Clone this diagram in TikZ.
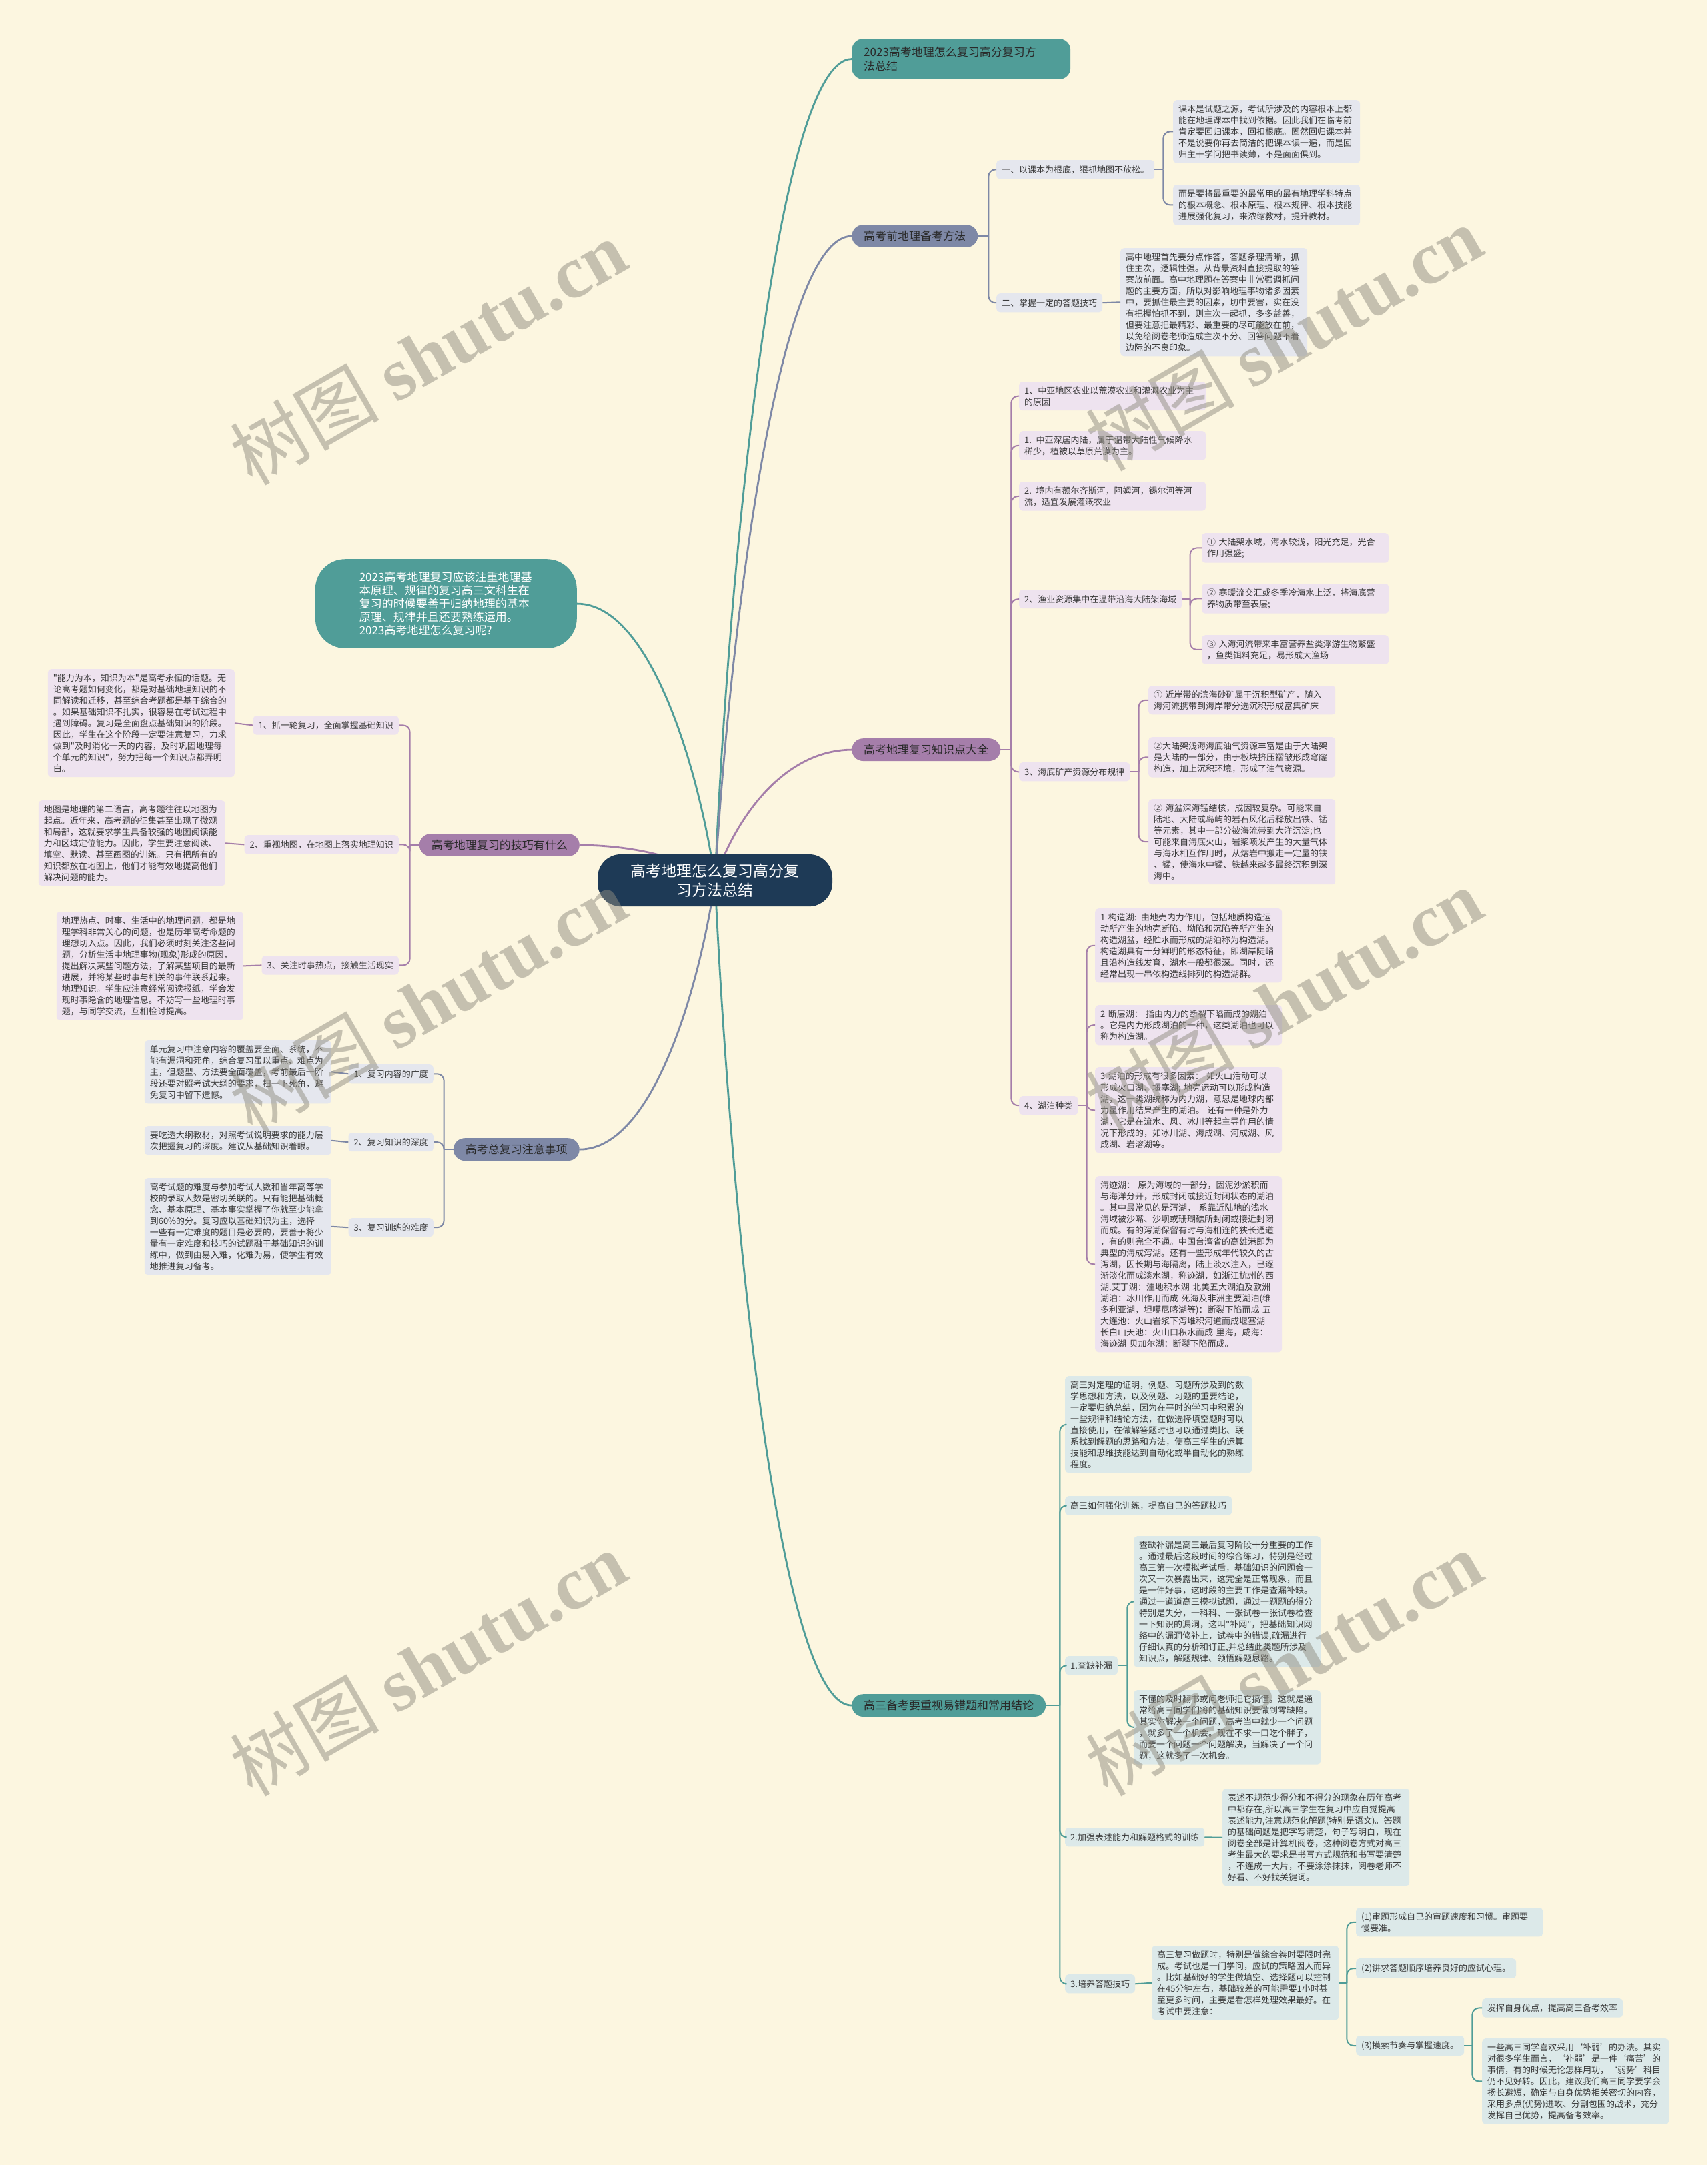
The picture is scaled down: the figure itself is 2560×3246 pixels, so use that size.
\documentclass[tikz,border=0pt]{standalone}
\usepackage{fontspec}
\setmainfont{Noto Sans CJK SC}
\newfontfamily\cjk{Noto Sans CJK SC}
\newfontfamily\wmlatin{Liberation Serif}
\usetikzlibrary{backgrounds}

\definecolor{bgcream}{HTML}{FCF6E0}
\definecolor{navy}{HTML}{1E3A56}
\definecolor{tealM}{HTML}{509D98}
\definecolor{tealL}{HTML}{DCE9E9}
\definecolor{purpM}{HTML}{A57EAA}
\definecolor{purpL}{HTML}{EEE3EF}
\definecolor{blueM}{HTML}{7E88A6}
\definecolor{blueL}{HTML}{E5E7EE}
\definecolor{txtgray}{HTML}{3A3A3A}
\definecolor{txtdark}{HTML}{2A2A2A}
\definecolor{wmgray}{HTML}{8F8C80}

\newcommand{\leaffont}{\cjk\fontsize{13}{17}\selectfont}
\newcommand{\branchfont}{\cjk\fontsize{17}{21}\selectfont}

\tikzset{
  leafbox/.style={fill=#1, rounded corners=5pt, inner xsep=8pt, inner ysep=7pt,
    text width=264pt, align=left, font=\leaffont, text=txtgray},
  tagbox/.style={fill=#1, rounded corners=5pt, inner xsep=8pt, inner ysep=8pt,
    font=\leaffont, text=txtgray},
  branchbox/.style={fill=#1, rounded corners=17pt, inner xsep=18pt, inner ysep=9pt,
    font=\branchfont, text=txtdark},
  linkline/.style={draw=#1, line width=2pt},
  trunkline/.style={draw=#1, line width=2.8pt},
  elbow/.style={rounded corners=10pt},
  wmark/.style={rotate=30, font=\fontsize{112}{112}\selectfont, text=wmgray, text opacity=0.5}
}

\begin{document}
\begin{tikzpicture}[x=1pt, y=-1pt]
\useasboundingbox (0,0) rectangle (2560,3246);
\begin{scope}[on background layer]
\fill[bgcream] (0,0) rectangle (2560,3246);
\end{scope}

% centre
\node[fill=navy, text=white, rounded corners=35pt, inner xsep=48pt, inner ysep=14pt,
  text width=256pt, align=center, font=\cjk\fontsize{23}{29}\selectfont] (ctr) at (1072,1320)
  {高考地理怎么复习高分复\\习方法总结};

% ---------- right: top ----------
\node[branchbox=tealM, anchor=north west, inner ysep=12pt, text width=292pt, align=left] (top) at (1277,58)
  {2023高考地理怎么复习高分复习方\\法总结};

% ---------- right: 高考前地理备考方法 ----------
\node[branchbox=blueM, anchor=north west] (prep) at (1277,337) {高考前地理备考方法};
\node[tagbox=blueL, anchor=north west] (prep1) at (1494,240) {一、以课本为根底，狠抓地图不放松。};
\node[leafbox=blueL, anchor=north west] (prep1a) at (1759,150)
  {课本是试题之源，考试所涉及的内容根本上都\\能在地理课本中找到依据。因此我们在临考前\\肯定要回归课本，回扣根底。固然回归课本并\\不是说要你再去简洁的把课本读一遍，而是回\\归主干学问把书读薄，不是面面俱到。};
\node[leafbox=blueL, anchor=north west] (prep1b) at (1759,277)
  {而是要将最重要的最常用的最有地理学科特点\\的根本概念、根本原理、根本规律、根本技能\\进展强化复习，来浓缩教材，提升教材。};
\node[tagbox=blueL, anchor=north west] (prep2) at (1494,440) {二、掌握一定的答题技巧};
\node[leafbox=blueL, anchor=north west] (prep2a) at (1680,372)
  {高中地理首先要分点作答，答题条理清晰，抓\\住主次，逻辑性强。从背景资料直接提取的答\\案放前面。高中地理题在答案中非常强调抓问\\题的主要方面，所以对影响地理事物诸多因素\\中，要抓住最主要的因素，切中要害，实在没\\有把握怕抓不到，则主次一起抓，多多益善，\\但要注意把最精彩、最重要的尽可能放在前，\\以免给阅卷老师造成主次不分、回答问题不着\\边际的不良印象。};

\draw[linkline=blueM] (prep.east) -- ++(16,0) coordinate (prepv);
\foreach \n in {prep1,prep2} \draw[linkline=blueM, elbow] (prepv) |- (\n.west);
\draw[linkline=blueM] (prep1.east) -- ++(13,0) coordinate (prep1v);
\foreach \n in {prep1a,prep1b} \draw[linkline=blueM, elbow] (prep1v) |- (\n.west);
\draw[linkline=blueM] (prep2.east) -- (prep2a.west);

% ---------- right: 高考地理复习知识点大全 ----------
\node[branchbox=purpM, anchor=north west] (know) at (1277,1107) {高考地理复习知识点大全};
\node[leafbox=purpL, anchor=north west] (c1) at (1528,572)
  {1、中亚地区农业以荒漠农业和灌溉农业为主\\的原因};
\node[leafbox=purpL, anchor=north west] (c2) at (1528,646)
  {1. 中亚深居内陆，属于温带大陆性气候降水\\稀少，植被以草原荒漠为主。};
\node[leafbox=purpL, anchor=north west] (c3) at (1528,722)
  {2. 境内有额尔齐斯河，阿姆河，锡尔河等河\\流，适宜发展灌溉农业};
\node[tagbox=purpL, anchor=north west] (c4) at (1528,884) {2、渔业资源集中在温带沿海大陆架海域};
\node[leafbox=purpL, anchor=north west] (s1) at (1802,799)
  {① 大陆架水域，海水较浅，阳光充足，光合\\作用强盛;};
\node[leafbox=purpL, anchor=north west] (s2) at (1802,875)
  {② 寒暖流交汇或冬季冷海水上泛，将海底营\\养物质带至表层;};
\node[leafbox=purpL, anchor=north west] (s3) at (1802,952)
  {③ 入海河流带来丰富营养盐类浮游生物繁盛\\，鱼类饵料充足，易形成大渔场};
\node[tagbox=purpL, anchor=north west] (c5) at (1528,1143) {3、海底矿产资源分布规律};
\node[leafbox=purpL, anchor=north west] (t1) at (1722,1028)
  {① 近岸带的滨海砂矿属于沉积型矿产，随入\\海河流携带到海岸带分选沉积形成富集矿床};
\node[leafbox=purpL, anchor=north west] (t2) at (1722,1105)
  {②大陆架浅海海底油气资源丰富是由于大陆架\\是大陆的一部分，由于板块挤压褶皱形成穹窿\\构造，加上沉积环境，形成了油气资源。};
\node[leafbox=purpL, anchor=north west] (t3) at (1722,1198)
  {② 海盆深海锰结核，成因较复杂。可能来自\\陆地、大陆或岛屿的岩石风化后释放出铁、锰\\等元素，其中一部分被海流带到大洋沉淀;也\\可能来自海底火山，岩浆喷发产生的大量气体\\与海水相互作用时，从熔岩中搬走一定量的铁\\、锰，使海水中锰、铁越来越多最终沉积到深\\海中。};
\node[tagbox=purpL, anchor=north west] (c6) at (1528,1643) {4、湖泊种类};
\node[leafbox=purpL, anchor=north west] (l1) at (1642,1362)
  {1 构造湖: 由地壳内力作用，包括地质构造运\\动所产生的地壳断陷、坳陷和沉陷等所产生的\\构造湖盆，经贮水而形成的湖泊称为构造湖。\\构造湖具有十分鲜明的形态特征，即湖岸陡峭\\且沿构造线发育，湖水一般都很深。同时，还\\经常出现一串依构造线排列的构造湖群。};
\node[leafbox=purpL, anchor=north west] (l2) at (1642,1507)
  {2 断层湖： 指由内力的断裂下陷而成的湖泊\\。它是内力形成湖泊的一种，这类湖泊也可以\\称为构造湖。};
\node[leafbox=purpL, anchor=north west] (l3) at (1642,1600)
  {3 湖泊的形成有很多因素： 如火山活动可以\\形成火口湖、堰塞湖; 地壳运动可以形成构造\\湖，这一类湖统称为内力湖，意思是地球内部\\力量作用结果产生的湖泊。 还有一种是外力\\湖，它是在流水、风、冰川等起主导作用的情\\况下形成的，如冰川湖、海成湖、河成湖、风\\成湖、岩溶湖等。};
\node[leafbox=purpL, anchor=north west] (l4) at (1642,1763)
  {海迹湖： 原为海域的一部分，因泥沙淤积而\\与海洋分开，形成封闭或接近封闭状态的湖泊\\。其中最常见的是泻湖， 系靠近陆地的浅水\\海域被沙嘴、沙坝或珊瑚礁所封闭或接近封闭\\而成。有的泻湖保留有时与海相连的狭长通道\\，有的则完全不通。中国台湾省的高雄港即为\\典型的海成泻湖。还有一些形成年代较久的古\\泻湖，因长期与海隔离，陆上淡水注入，已逐\\渐淡化而成淡水湖，称迹湖，如浙江杭州的西\\湖.艾丁湖：洼地积水湖 北美五大湖泊及欧洲\\湖泊：冰川作用而成 死海及非洲主要湖泊(维\\多利亚湖，坦噶尼喀湖等)：断裂下陷而成 五\\大连池：火山岩浆下泻堆积河道而成堰塞湖\\长白山天池：火山口积水而成 里海，咸海：\\海迹湖 贝加尔湖：断裂下陷而成。};

\draw[linkline=purpM] (know.east) -- ++(16,0) coordinate (knowv);
\foreach \n in {c1,c2,c3,c4,c5,c6} \draw[linkline=purpM, elbow] (knowv) |- (\n.west);
\draw[linkline=purpM] (c4.east) -- ++(12,0) coordinate (c4v);
\foreach \n in {s1,s2,s3} \draw[linkline=purpM, elbow] (c4v) |- (\n.west);
\draw[linkline=purpM] (c5.east) -- ++(13,0) coordinate (c5v);
\foreach \n in {t1,t2,t3} \draw[linkline=purpM, elbow] (c5v) |- (\n.west);
\draw[linkline=purpM] (c6.east) -- ++(13,0) coordinate (c6v);
\foreach \n in {l1,l2,l3,l4} \draw[linkline=purpM, elbow] (c6v) |- (\n.west);

% ---------- right: 高三备考要重视易错题和常用结论 ----------
\node[branchbox=tealM, anchor=north west] (gaosan) at (1277,2540) {高三备考要重视易错题和常用结论};
\node[leafbox=tealL, anchor=north west] (h1) at (1597,2063)
  {高三对定理的证明，例题、习题所涉及到的数\\学思想和方法，以及例题、习题的重要结论，\\一定要归纳总结，因为在平时的学习中积累的\\一些规律和结论方法，在做选择填空题时可以\\直接使用，在做解答题时也可以通过类比、联\\系找到解题的思路和方法，使高三学生的运算\\技能和思维技能达到自动化或半自动化的熟练\\程度。};
\node[tagbox=tealL, anchor=north west] (h2) at (1597,2243) {高三如何强化训练，提高自己的答题技巧};
\node[tagbox=tealL, anchor=north west] (h3) at (1597,2483) {1.查缺补漏};
\node[leafbox=tealL, anchor=north west] (h3a) at (1700,2303)
  {查缺补漏是高三最后复习阶段十分重要的工作\\。通过最后这段时间的综合练习，特别是经过\\高三第一次模拟考试后，基础知识的问题会一\\次又一次暴露出来，这完全是正常现象，而且\\是一件好事，这时段的主要工作是查漏补缺。\\通过一道道高三模拟试题，通过一题题的得分\\特别是失分，一科科、一张试卷一张试卷检查\\一下知识的漏洞，这叫"补网"，把基础知识网\\络中的漏洞修补上，试卷中的错误,疏漏进行\\仔细认真的分析和订正,并总结此类题所涉及\\知识点，解题规律、领悟解题思路。};
\node[leafbox=tealL, anchor=north west] (h3b) at (1700,2534)
  {不懂的及时翻书或问老师把它搞懂。这就是通\\常给高三同学们将的基础知识要做到零缺陷。\\其实你解决一个问题，高考当中就少一个问题\\，就多了一个机会。现在不求一口吃个胖子，\\而要一个问题一个问题解决，当解决了一个问\\题，这就多了一次机会。};
\node[tagbox=tealL, anchor=north west] (h4) at (1597,2740) {2.加强表述能力和解题格式的训练};
\node[leafbox=tealL, anchor=north west] (h4a) at (1833,2682)
  {表述不规范少得分和不得分的现象在历年高考\\中都存在,所以高三学生在复习中应自觉提高\\表述能力,注意规范化解题(特别是语文)。答题\\的基础问题是把字写清楚，句子写明白，现在\\阅卷全部是计算机阅卷，这种阅卷方式对高三\\考生最大的要求是书写方式规范和书写要清楚\\，不连成一大片，不要涂涂抹抹，阅卷老师不\\好看、不好找关键词。};
\node[tagbox=tealL, anchor=north west] (h5) at (1597,2960) {3.培养答题技巧};
\node[leafbox=tealL, anchor=north west] (h5a) at (1727,2917)
  {高三复习做题时，特别是做综合卷时要限时完\\成。考试也是一门学问，应试的策略因人而异\\。比如基础好的学生做填空、选择题可以控制\\在45分钟左右，基础较差的可能需要1小时甚\\至更多时间，主要是看怎样处理效果最好。在\\考试中要注意：};
\node[leafbox=tealL, anchor=north west] (p1) at (2033,2860)
  {(1)审题形成自己的审题速度和习惯。审题要\\慢要准。};
\node[tagbox=tealL, anchor=north west] (p2) at (2033,2936) {(2)讲求答题顺序培养良好的应试心理。};
\node[tagbox=tealL, anchor=north west] (p3) at (2033,3052) {(3)摸索节奏与掌握速度。};
\node[tagbox=tealL, anchor=north west] (q1) at (2222,2996) {发挥自身优点，提高高三备考效率};
\node[leafbox=tealL, anchor=north west] (q2) at (2222,3056)
  {一些高三同学喜欢采用‘补弱’的办法。其实\\对很多学生而言，‘补弱’是一件‘痛苦’的\\事情，有的时候无论怎样用功，‘弱势’科目\\仍不见好转。因此，建议我们高三同学要学会\\扬长避短，确定与自身优势相关密切的内容，\\采用多点(优势)进攻、分割包围的战术，充分\\发挥自己优势，提高备考效率。};

\draw[linkline=tealM] (gaosan.east) -- ++(21,0) coordinate (gsv);
\foreach \n in {h1,h2,h3,h4,h5} \draw[linkline=tealM, elbow] (gsv) |- (\n.west);
\draw[linkline=tealM] (h3.east) -- ++(14,0) coordinate (h3v);
\foreach \n in {h3a,h3b} \draw[linkline=tealM, elbow] (h3v) |- (\n.west);
\draw[linkline=tealM] (h4.east) -- (h4a.west);
\draw[linkline=tealM] (h5.east) -- (h5a.west);
\draw[linkline=tealM] (h5a.east) -- ++(12,0) coordinate (h5v);
\foreach \n in {p1,p2,p3} \draw[linkline=tealM, elbow] (h5v) |- (\n.west);
\draw[linkline=tealM] (p3.east) -- ++(12,0) coordinate (p3v);
\foreach \n in {q1,q2} \draw[linkline=tealM, elbow] (p3v) |- (\n.west);

% ---------- left: intro ----------
\node[fill=tealM, text=white, rounded corners=45pt, inner xsep=66pt, inner ysep=19pt,
  text width=260pt, align=left, font=\cjk\fontsize{17}{20}\selectfont, anchor=north east] (intro) at (865,838)
  {2023高考地理复习应该注重地理基\\本原理、规律的复习高三文科生在\\复习的时候要善于归纳地理的基本\\原理、规律并且还要熟练运用。\\2023高考地理怎么复习呢?};

% ---------- left: 高考地理复习的技巧有什么 ----------
\node[branchbox=purpM, anchor=north east] (jiqiao) at (869,1250) {高考地理复习的技巧有什么};
\node[tagbox=purpL, anchor=north east] (k1) at (598,1073) {1、抓一轮复习，全面掌握基础知识};
\node[leafbox=purpL, anchor=north east] (k1t) at (352,1003)
  {"能力为本，知识为本"是高考永恒的话题。无\\论高考题如何变化，都是对基础地理知识的不\\同解读和迁移，甚至综合考题都是基于综合的\\。如果基础知识不扎实，很容易在考试过程中\\遇到障碍。复习是全面盘点基础知识的阶段。\\因此，学生在这个阶段一定要注意复习，力求\\做到"及时消化一天的内容，及时巩固地理每\\个单元的知识"，努力把每一个知识点都弄明\\白。};
\node[tagbox=purpL, anchor=north east] (k2) at (598,1252) {2、重视地图，在地图上落实地理知识};
\node[leafbox=purpL, anchor=north east] (k2t) at (338,1200)
  {地图是地理的第二语言，高考题往往以地图为\\起点。近年来，高考题的征集甚至出现了微观\\和局部，这就要求学生具备较强的地图阅读能\\力和区域定位能力。因此，学生要注意阅读、\\填空、默读、甚至画图的训练。只有把所有的\\知识都放在地图上，他们才能有效地提高他们\\解决问题的能力。};
\node[tagbox=purpL, anchor=north east] (k3) at (598,1433) {3、关注时事热点，接触生活现实};
\node[leafbox=purpL, anchor=north east] (k3t) at (365,1367)
  {地理热点、时事、生活中的地理问题，都是地\\理学科非常关心的问题，也是历年高考命题的\\理想切入点。因此，我们必须时刻关注这些问\\题，分析生活中地理事物(现象)形成的原因，\\提出解决某些问题方法，了解某些项目的最新\\进展，并将某些时事与相关的事件联系起来。\\地理知识。学生应注意经常阅读报纸，学会发\\现时事隐含的地理信息。不妨写一些地理时事\\题，与同学交流，互相检讨提高。};

\draw[linkline=purpM] (jiqiao.west) -- ++(-14,0) coordinate (jqv);
\foreach \n in {k1,k2,k3} \draw[linkline=purpM, elbow] (jqv) |- (\n.east);
\foreach \n in {k1,k2,k3} \draw[linkline=purpM] (\n.west) -- (\n t.east);

% ---------- left: 高考总复习注意事项 ----------
\node[branchbox=blueM, anchor=north east] (zhuyi) at (869,1706) {高考总复习注意事项};
\node[tagbox=blueL, anchor=north east] (z1) at (650,1596) {1、复习内容的广度};
\node[leafbox=blueL, anchor=north east] (z1t) at (497,1560)
  {单元复习中注意内容的覆盖要全面、系统，不\\能有漏洞和死角，综合复习虽以重点、难点为\\主，但题型、方法要全面覆盖，考前最后一阶\\段还要对照考试大纲的要求，扫一下死角，避\\免复习中留下遗憾。};
\node[tagbox=blueL, anchor=north east] (z2) at (650,1698) {2、复习知识的深度};
\node[leafbox=blueL, anchor=north east] (z2t) at (497,1688)
  {要吃透大纲教材，对照考试说明要求的能力层\\次把握复习的深度。建议从基础知识着眼。};
\node[tagbox=blueL, anchor=north east] (z3) at (650,1826) {3、复习训练的难度};
\node[leafbox=blueL, anchor=north east] (z3t) at (497,1766)
  {高考试题的难度与参加考试人数和当年高等学\\校的录取人数是密切关联的。只有能把基础概\\念、基本原理、基本事实掌握了你就至少能拿\\到60\%的分。复习应以基础知识为主，选择\\一些有一定难度的题目是必要的，要善于将少\\量有一定难度和技巧的试题融于基础知识的训\\练中，做到由易入难，化难为易，使学生有效\\地推进复习备考。};

\draw[linkline=blueM] (zhuyi.west) -- ++(-14,0) coordinate (zyv);
\foreach \n in {z1,z2,z3} \draw[linkline=blueM, elbow] (zyv) |- (\n.east);
\foreach \n in {z1,z2,z3} \draw[linkline=blueM] (\n.west) -- (\n t.east);

% ---------- main curves ----------
\begin{scope}[on background layer]
\draw[trunkline=tealM] (ctr.center) .. controls (1090,889) and (1162,89) .. (top.west);
\draw[trunkline=blueM] (ctr.center) .. controls (1092,982) and (1162,355) .. (prep.west);
\draw[trunkline=purpM] (ctr.center) .. controls (1092,1252) and (1162,1125) .. (know.west);
\draw[trunkline=tealM] (ctr.center) .. controls (1092,1753) and (1162,2557) .. (gaosan.west);
\draw[trunkline=tealM] (ctr.center) .. controls (1052,1175) and (980,905) .. (intro.east);
\draw[trunkline=purpM] (ctr.center) .. controls (1052,1302) and (984,1268) .. (jiqiao.east);
\draw[trunkline=blueM] (ctr.center) .. controls (1052,1461) and (984,1723) .. (zhuyi.east);
\end{scope}

% watermarks
\foreach \wx/\wy [count=\i] in {642/528, 1925/507, 642/1500, 1925/1500, 642/2494, 1925/2494}
  \node[wmark] (wm\i) at (\wx,\wy) {{\cjk 树图} {\wmlatin\bfseries shutu.cn}};
\end{tikzpicture}
\end{document}
